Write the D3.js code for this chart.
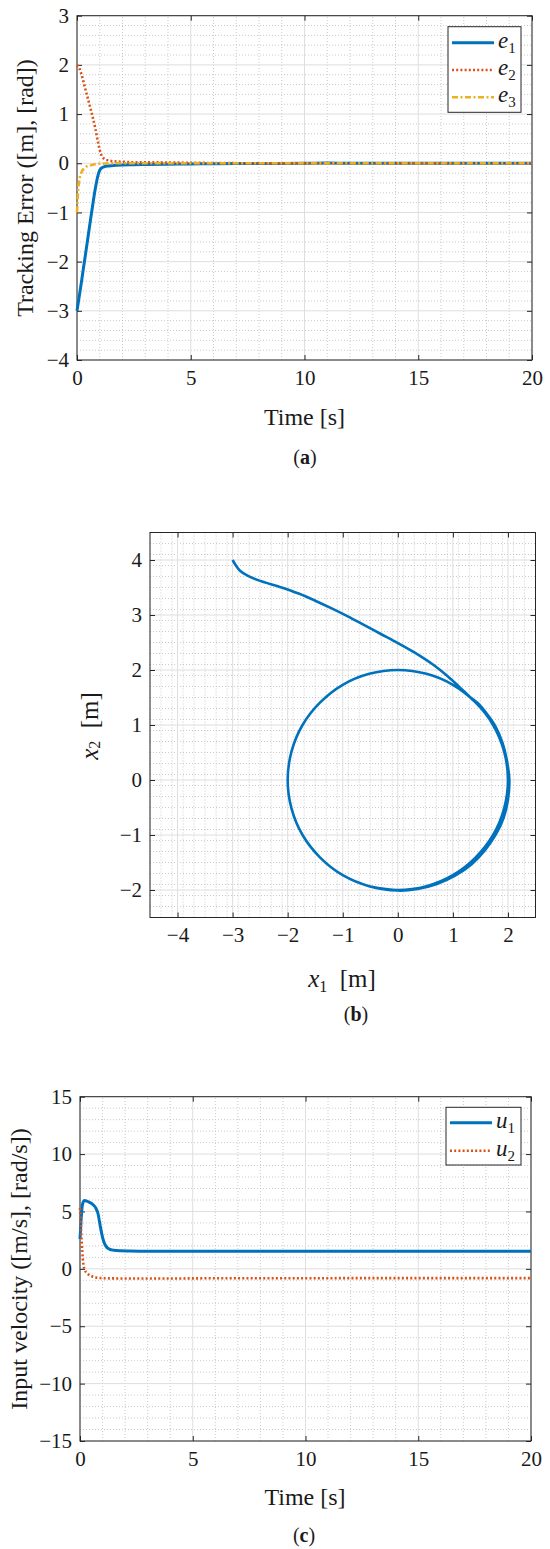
<!DOCTYPE html>
<html><head><meta charset="utf-8">
<script src="https://cdn.jsdelivr.net/npm/d3@7"></script>
<style>
body{margin:0;background:#fff}
svg text{font-family:'Liberation Serif','Times New Roman',serif !important;fill:#1a1a1a}
</style>
</head><body>
<svg id="c" width="550" height="1549" font-family="Liberation Serif, serif"></svg>
<script>
// ---------- Panel (a): tracking errors ----------
const timeA = [0, 0.02, 0.05, 0.1, 0.2, 0.3, 0.4, 0.5, 0.6, 0.7, 0.8, 0.9, 1.0, 1.1, 1.2, 1.4, 1.6, 2.0, 2.5, 3, 4, 5, 6, 8, 10, 11, 12, 14, 16, 18, 20];
const e1 = [-3, -2.94, -2.85, -2.7, -2.4, -2.08, -1.77, -1.45, -1.13, -0.82, -0.53, -0.29, -0.14, -0.09, -0.07, -0.055, -0.045, -0.035, -0.03, -0.025, -0.02, -0.015, -0.01, -0.005, 0, 0.005, 0, 0, 0, 0, 0];
const e2 = [2, 1.99, 1.97, 1.93, 1.8, 1.63, 1.45, 1.28, 1.1, 0.92, 0.72, 0.48, 0.27, 0.14, 0.09, 0.055, 0.04, 0.03, 0.02, 0.02, 0.015, 0.01, 0.005, 0, 0, 0, 0, 0, 0, 0, 0];
const e3 = [-1, -0.8, -0.55, -0.35, -0.18, -0.11, -0.07, -0.05, -0.04, -0.03, -0.02, -0.015, -0.01, -0.01, -0.005, -0.005, 0, 0, 0, 0, 0, 0, 0, 0, 0, 0, 0, 0, 0, 0, 0];
const ticksA_x = [0, 5, 10, 15, 20];
const ticksA_y = [-4, -3, -2, -1, 0, 1, 2, 3];
const legendA = ["e", "e", "e"];
const legendA_sub = ["1", "2", "3"];

// ---------- Panel (b): position trajectory ----------
const pathX1 = [-3.0, -2.94, -2.86, -2.72, -2.5, -2.14, -1.8, -1.5, -1.2, -0.9, -0.6, -0.3, 0.0, 0.3, 0.65, 0.9, 1.13, 1.3,
  1.45, 1.62, 1.77, 1.9, 1.98, 2.025, 2.0, 1.92, 1.78, 1.58, 1.34, 1.04, 0.71, 0.36, 0.0,
  -0.52, -1.0, -1.41, -1.73, -1.93, -2.0, -1.93, -1.73, -1.41, -1.0, -0.52, 0.0, 0.52, 1.0, 1.41, 1.73, 1.93, 2.0, 1.93, 1.73, 1.41, 1.0, 0.52, 0.0, -0.52];
const pathX2 = [4.0, 3.9, 3.8, 3.71, 3.62, 3.51, 3.39, 3.26, 3.12, 2.97, 2.81, 2.65, 2.49, 2.32, 2.09, 1.89, 1.68, 1.52,
  1.4, 1.2, 0.98, 0.68, 0.36, 0.0, -0.36, -0.69, -0.99, -1.28, -1.53, -1.74, -1.89, -1.98, -2.01,
  -1.93, -1.73, -1.41, -1.0, -0.52, 0.0, 0.52, 1.0, 1.41, 1.73, 1.93, 2.0, 1.93, 1.73, 1.41, 1.0, 0.52, 0.0, -0.52, -1.0, -1.41, -1.73, -1.93, -2.0, -1.93];
const ticksB_x = [-4, -3, -2, -1, 0, 1, 2];
const ticksB_y = [-2, -1, 0, 1, 2, 3, 4];

// ---------- Panel (c): input velocities ----------
const timeC = [0, 0.05, 0.1, 0.15, 0.2, 0.3, 0.4, 0.5, 0.6, 0.7, 0.8, 0.9, 1.0, 1.1, 1.2, 1.3, 1.5, 1.8, 2.2, 3, 4, 5, 6, 8, 10, 12, 14, 16, 18, 20];
const u1 = [2.6, 4.3, 5.5, 5.85, 5.95, 5.9, 5.82, 5.72, 5.55, 5.3, 4.8, 3.7, 2.75, 2.15, 1.85, 1.72, 1.62, 1.57, 1.55, 1.53, 1.53, 1.53, 1.53, 1.53, 1.53, 1.53, 1.53, 1.53, 1.53, 1.53];
const u2 = [5.3, 3.2, 1.5, 0.4, -0.05, -0.35, -0.52, -0.62, -0.7, -0.75, -0.78, -0.8, -0.81, -0.82, -0.82, -0.83, -0.83, -0.84, -0.84, -0.84, -0.84, -0.83, -0.82, -0.82, -0.82, -0.81, -0.81, -0.81, -0.81, -0.81];
const ticksC_x = [0, 5, 10, 15, 20];
const ticksC_y = [-15, -10, -5, 0, 5, 10, 15];
const legendC = ["u", "u"];
const legendC_sub = ["1", "2"];

// ---------- drawing ----------
const FONT = "'Liberation Serif', 'Times New Roman', serif";
const svg = d3.select('#c');
const BLUE = '#0072BD', RED = '#D95319', YEL = '#EDB120', AX = '#262626';
const fmt = d3.format('');

function frame(x, y, xt, yt, xMinor, yMinor) {
  const g = svg.append('g');
  const [xa, xb] = x.range(), [ya, yb] = y.range(); // ya bottom, yb top
  const xd = x.domain(), yd = y.domain();
  g.append('rect').attr('x', xa).attr('y', yb).attr('width', xb - xa).attr('height', ya - yb).attr('fill', '#fff');
  const isMajor = (v, arr) => arr.some(t => Math.abs(t - v) < 1e-6);
  const xm = d3.range(Math.round((xd[1] - xd[0]) / xMinor) + 1).map(i => xd[0] + i * xMinor).filter(v => !isMajor(v, xt));
  const ym = d3.range(Math.round((yd[1] - yd[0]) / yMinor) + 1).map(i => yd[0] + i * yMinor).filter(v => !isMajor(v, yt));
  const minor = {stroke: '#bdbdbd', 'stroke-width': 0.8, 'stroke-dasharray': '1,2'};
  const major = {stroke: '#dedede', 'stroke-width': 1};
  const vl = (arr, st) => g.selectAll(null).data(arr).enter().append('line')
      .attr('x1', d => x(d)).attr('x2', d => x(d)).attr('y1', ya).attr('y2', yb).each(function () { for (const k in st) d3.select(this).attr(k, st[k]); });
  const hl = (arr, st) => g.selectAll(null).data(arr).enter().append('line')
      .attr('y1', d => y(d)).attr('y2', d => y(d)).attr('x1', xa).attr('x2', xb).each(function () { for (const k in st) d3.select(this).attr(k, st[k]); });
  vl(xm, minor); hl(ym, minor); vl(xt, major); hl(yt, major);
  const L = 5;
  const styleAxis = s => { s.attr('font-family', FONT); s.select('.domain').remove(); s.selectAll('line').attr('stroke', AX); };
  svg.append('g').attr('transform', `translate(0,${ya})`).call(d3.axisBottom(x).tickValues(xt).tickSizeInner(-L).tickSizeOuter(0).tickFormat(fmt))
    .call(styleAxis).call(s => s.selectAll('text').attr('font-size', 21).attr('fill', '#1a1a1a').attr('dy', '0.71em').attr('y', 10));
  svg.append('g').attr('transform', `translate(0,${yb})`).call(d3.axisTop(x).tickValues(xt).tickSizeInner(-L).tickSizeOuter(0).tickFormat(''))
    .call(styleAxis);
  svg.append('g').attr('transform', `translate(${xa},0)`).call(d3.axisLeft(y).tickValues(yt).tickSizeInner(-L).tickSizeOuter(0).tickFormat(fmt))
    .call(styleAxis).call(s => s.selectAll('text').attr('font-size', 21).attr('fill', '#1a1a1a').attr('x', -8));
  svg.append('g').attr('transform', `translate(${xb},0)`).call(d3.axisRight(y).tickValues(yt).tickSizeInner(-L).tickSizeOuter(0).tickFormat(''))
    .call(styleAxis);
  svg.append('rect').attr('x', xa).attr('y', yb).attr('width', xb - xa).attr('height', ya - yb)
    .attr('fill', 'none').attr('stroke', AX).attr('stroke-width', 1);
}

function series(x, y, xs, ys, color, width, dash, curve) {
  const pts = xs.map((v, i) => [v, ys[i]]);
  const line = d3.line().x(d => x(d[0])).y(d => y(d[1])).curve(curve || d3.curveMonotoneX);
  svg.append('path').attr('d', line(pts)).attr('fill', 'none').attr('stroke', color)
    .attr('stroke-width', width).attr('stroke-dasharray', dash || null).attr('stroke-linejoin', 'round');
}

function legend(x0, y0, w, h, names, subs, styles, rowY) {
  const g = svg.append('g');
  g.append('rect').attr('x', x0).attr('y', y0).attr('width', w).attr('height', h)
    .attr('fill', '#fff').attr('stroke', AX).attr('stroke-width', 1);
  names.forEach((n, i) => {
    const yy = y0 + rowY[i];
    g.append('line').attr('x1', x0 + 4).attr('x2', x0 + 46).attr('y1', yy).attr('y2', yy)
      .attr('stroke', styles[i][0]).attr('stroke-width', styles[i][1]).attr('stroke-dasharray', styles[i][2] || null);
    const t = g.append('text').attr('x', x0 + 50).attr('y', yy + 5).attr('font-size', 23).attr('font-family', FONT);
    t.append('tspan').attr('font-style', 'italic').text(n);
    t.append('tspan').attr('font-size', 15).attr('dy', 5).text(subs[i]);
  });
}

function ylabel(cx, cy, build, size) {
  const t = svg.append('text').attr('transform', `translate(${cx},${cy}) rotate(-90)`).attr('font-family', FONT)
    .attr('text-anchor', 'middle').attr('dominant-baseline', 'central').attr('font-size', size);
  build(t);
}
function label(x, y, size, build) {
  const t = svg.append('text').attr('x', x).attr('y', y).attr('text-anchor', 'middle').attr('font-size', size).attr('font-family', FONT);
  build(t);
}
function caption(x, y, letter) {
  label(x, y, 20, c => { c.append('tspan').text('('); c.append('tspan').attr('font-weight', 'bold').text(letter); c.append('tspan').text(')'); });
}

// ----- Panel (a)
{
  const x = d3.scaleLinear().domain([0, 20]).range([77, 532]);
  const y = d3.scaleLinear().domain([-4, 3]).range([360, 15.7]);
  frame(x, y, ticksA_x, ticksA_y, 1, 0.2);
  series(x, y, timeA, e1, BLUE, 3);
  series(x, y, timeA, e2, RED, 2.6, '2,2.2');
  series(x, y, timeA, e3, YEL, 2.6, '6,2.5,2,2.5');
  legend(448, 26.7, 73, 85.6, legendA, legendA_sub, [[BLUE, 3], [RED, 2.6, '2,2.2'], [YEL, 2.6, '6,2.5,2,2.5']], [16, 43.3, 70.6]);
  ylabel(25, 188, t => t.text('Tracking Error ([m], [rad])'), 24);
  label(304.5, 425, 24, t => t.text('Time [s]'));
  caption(305, 464, 'a');
}

// ----- Panel (b)
{
  const x = d3.scaleLinear().domain([-4.5, 2.5]).range([150, 535.5]);
  const y = d3.scaleLinear().domain([-2.5, 4.5]).range([917.5, 532.5]);
  frame(x, y, ticksB_x, ticksB_y, 0.2, 0.2);
  series(x, y, pathX1, pathX2, BLUE, 2.6, null, d3.curveCatmullRom.alpha(0.5));
  ylabel(89, 726, t => {
    t.append('tspan').attr('font-style', 'italic').text('x');
    t.append('tspan').attr('font-size', 16).attr('dy', 5).text('2');
    t.append('tspan').attr('dy', -5).text('\u2002[m]');
  }, 25);
  label(342, 987, 25, xl => {
    xl.append('tspan').attr('font-style', 'italic').text('x');
    xl.append('tspan').attr('font-size', 16).attr('dy', 5).text('1');
    xl.append('tspan').attr('dy', -5).text('\u2002[m]');
  });
  caption(356, 1021, 'b');
}

// ----- Panel (c)
{
  const x = d3.scaleLinear().domain([0, 20]).range([80, 531]);
  const y = d3.scaleLinear().domain([-15, 15]).range([1441, 1096.7]);
  frame(x, y, ticksC_x, ticksC_y, 1, 1);
  series(x, y, timeC, u1, BLUE, 3);
  series(x, y, timeC, u2, RED, 2.6, '2,2.2');
  legend(446, 1107.3, 75, 57.7, legendC, legendC_sub, [[BLUE, 3], [RED, 2.6, '2,2.2']], [15.4, 43.4]);
  ylabel(19, 1269, t => t.text('Input velocity ([m/s], [rad/s])'), 24);
  label(305, 1505, 24, t => t.text('Time [s]'));
  caption(304, 1542, 'c');
}
</script>
</body></html>
